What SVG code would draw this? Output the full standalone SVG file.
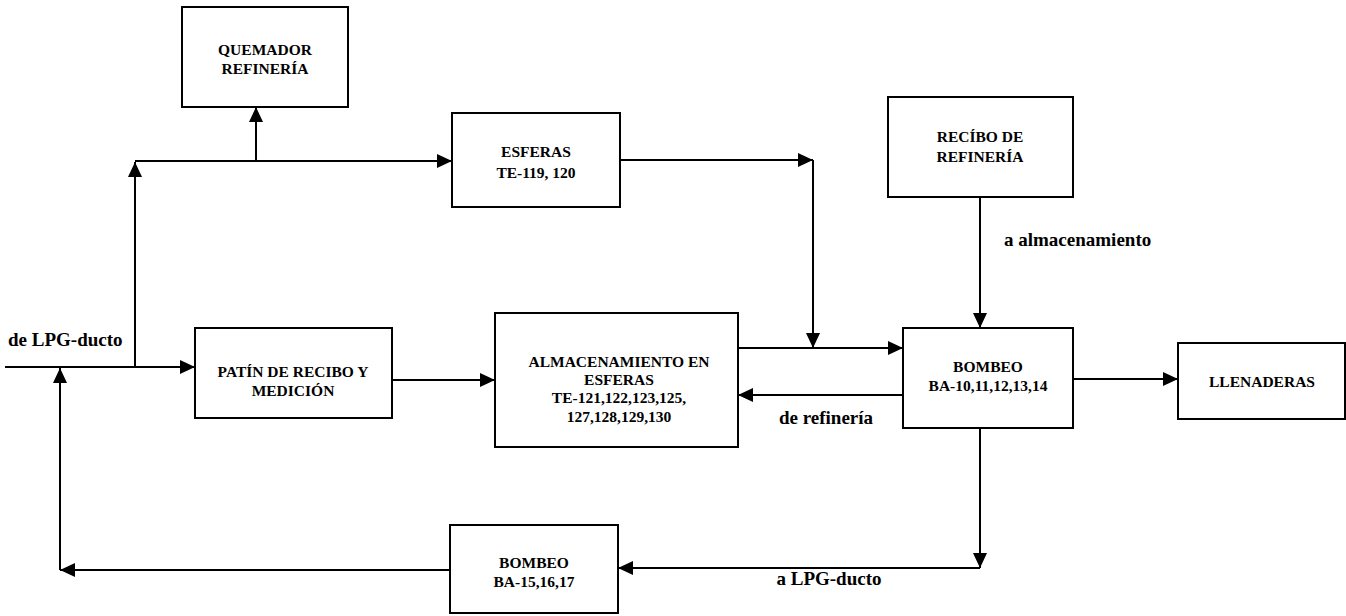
<svg xmlns="http://www.w3.org/2000/svg" width="1346" height="616" viewBox="0 0 1346 616">
<style>
.box{fill:#fff;stroke:#000;stroke-width:2}
.t{font-family:"Liberation Serif","Times New Roman",serif;font-weight:bold;font-size:15.5px;text-anchor:middle;fill:#000}
.l{font-family:"Liberation Serif","Times New Roman",serif;font-weight:bold;font-size:19px;fill:#000}
.c{fill:none;stroke:#000;stroke-width:2}
</style>
<defs>
<marker id="ah" markerUnits="userSpaceOnUse" markerWidth="16" markerHeight="14" refX="15" refY="7" orient="auto">
<path d="M0,0 L15,7 L0,14 z" fill="#000"/>
</marker>
</defs>
<rect width="1346" height="616" fill="#fff"/>
<g id="connectors">
<path class="c" d="M5,367 L195,367" marker-end="url(#ah)"/>
<path class="c" d="M135,367 L135,162" marker-end="url(#ah)"/>
<path class="c" d="M135,161 L452,161" marker-end="url(#ah)"/>
<path class="c" d="M256,161 L256,107" marker-end="url(#ah)"/>
<path class="c" d="M620,160 L813,160" marker-end="url(#ah)"/>
<path class="c" d="M813,160 L813,348" marker-end="url(#ah)"/>
<path class="c" d="M392,380 L495,380" marker-end="url(#ah)"/>
<path class="c" d="M738,348 L903,348" marker-end="url(#ah)"/>
<path class="c" d="M980,197 L980,328" marker-end="url(#ah)"/>
<path class="c" d="M903,395 L738,395" marker-end="url(#ah)"/>
<path class="c" d="M1073,379 L1178,379" marker-end="url(#ah)"/>
<path class="c" d="M980,428 L980,568" marker-end="url(#ah)"/>
<path class="c" d="M980,568 L618,568" marker-end="url(#ah)"/>
<path class="c" d="M450,570 L60,570" marker-end="url(#ah)"/>
<path class="c" d="M60,570 L60,368" marker-end="url(#ah)"/>
<text class="l" x="8" y="346">de LPG-ducto</text>
<text class="l" x="1004" y="246">a almacenamiento</text>
<text class="l" x="826" y="424" text-anchor="middle">de refinería</text>
<text class="l" x="829" y="585" text-anchor="middle">a LPG-ducto</text>
</g>
<g id="quemador">
<rect class="box" x="182" y="7" width="166" height="100"/>
<text class="t" x="265" y="55">QUEMADOR</text>
<text class="t" x="265" y="74">REFINERÍA</text>
</g>
<g id="esferas">
<rect class="box" x="452" y="113" width="168" height="94"/>
<text class="t" x="536" y="157">ESFERAS</text>
<text class="t" x="536" y="178">TE-119, 120</text>
</g>
<g id="recibo">
<rect class="box" x="888" y="97" width="185" height="100"/>
<text class="t" x="980" y="142">RECÍBO DE</text>
<text class="t" x="980" y="162">REFINERÍA</text>
</g>
<g id="patin">
<rect class="box" x="195" y="328" width="197" height="90"/>
<text class="t" x="293" y="377">PATÍN DE RECIBO Y</text>
<text class="t" x="293" y="396">MEDICIÓN</text>
</g>
<g id="almacenamiento">
<rect class="box" x="495" y="313" width="243" height="134"/>
<text class="t" x="619" y="367">ALMACENAMIENTO EN</text>
<text class="t" x="619" y="385">ESFERAS</text>
<text class="t" x="619" y="403">TE-121,122,123,125,</text>
<text class="t" x="619" y="422">127,128,129,130</text>
</g>
<g id="bombeo1">
<rect class="box" x="903" y="328" width="170" height="100"/>
<text class="t" x="988" y="372">BOMBEO</text>
<text class="t" x="988" y="391">BA-10,11,12,13,14</text>
</g>
<g id="llenaderas">
<rect class="box" x="1178" y="343" width="167" height="76"/>
<text class="t" x="1262" y="387">LLENADERAS</text>
</g>
<g id="bombeo2">
<rect class="box" x="450" y="525" width="168" height="88"/>
<text class="t" x="534" y="568">BOMBEO</text>
<text class="t" x="534" y="587">BA-15,16,17</text>
</g>
</svg>
